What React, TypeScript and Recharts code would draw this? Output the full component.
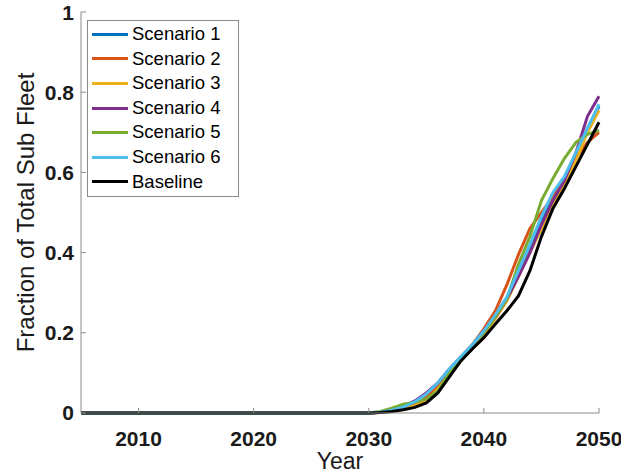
import { LineChart, Line, XAxis, YAxis, Legend } from "recharts";

// years with data; 2005 is the start of the flat zero run
const years = [2005, 2030, 2031, 2032, 2033, 2034, 2035, 2036, 2037, 2038, 2039, 2040, 2041, 2042, 2043, 2044, 2045, 2046, 2047, 2048, 2049, 2050];

const scenario1 = [0, 0, 0.002, 0.006, 0.014, 0.026, 0.044, 0.07, 0.105, 0.138, 0.168, 0.2, 0.24, 0.285, 0.35, 0.41, 0.48, 0.54, 0.585, 0.645, 0.71, 0.765];
const scenario2 = [0, 0, 0.002, 0.006, 0.013, 0.024, 0.04, 0.065, 0.1, 0.135, 0.17, 0.21, 0.255, 0.32, 0.395, 0.46, 0.5, 0.54, 0.585, 0.635, 0.675, 0.7];
const scenario3 = [0, 0, 0.001, 0.004, 0.01, 0.018, 0.03, 0.06, 0.095, 0.13, 0.165, 0.195, 0.235, 0.28, 0.34, 0.4, 0.46, 0.52, 0.57, 0.63, 0.7, 0.755];
const scenario4 = [0, 0, 0.002, 0.007, 0.016, 0.03, 0.05, 0.075, 0.11, 0.14, 0.17, 0.205, 0.24, 0.285, 0.34, 0.4, 0.47, 0.53, 0.58, 0.65, 0.74, 0.79];
const scenario5 = [0, 0, 0.004, 0.012, 0.022, 0.027, 0.035, 0.055, 0.1, 0.14, 0.17, 0.2, 0.24, 0.285, 0.37, 0.44, 0.53, 0.585, 0.635, 0.675, 0.695, 0.705];
const scenario6 = [0, 0, 0.002, 0.007, 0.015, 0.028, 0.047, 0.075, 0.11, 0.14, 0.17, 0.205, 0.245, 0.29, 0.355, 0.42, 0.49, 0.55, 0.59, 0.65, 0.71, 0.77];
const baseline = [0, 0, 0.001, 0.004, 0.008, 0.014, 0.025, 0.05, 0.09, 0.13, 0.16, 0.188, 0.222, 0.255, 0.292, 0.355, 0.44, 0.51, 0.56, 0.615, 0.67, 0.725];

const xTicks = [2010, 2020, 2030, 2040, 2050];
const yTicks = [0, 0.2, 0.4, 0.6, 0.8, 1];

const series = [
  { key: "s1", name: "Scenario 1", color: "#0072BD", values: scenario1 },
  { key: "s2", name: "Scenario 2", color: "#D95319", values: scenario2 },
  { key: "s3", name: "Scenario 3", color: "#EDB120", values: scenario3 },
  { key: "s4", name: "Scenario 4", color: "#7E2F8E", values: scenario4 },
  { key: "s5", name: "Scenario 5", color: "#77AC30", values: scenario5 },
  { key: "s6", name: "Scenario 6", color: "#4DBEEE", values: scenario6 },
  { key: "base", name: "Baseline", color: "#000000", values: baseline },
];

const data = years.map((year, i) => {
  const row: Record<string, number> = { year };
  series.forEach((s) => {
    row[s.key] = s.values[i];
  });
  return row;
});

const font = "'Liberation Sans', Arial, sans-serif";
const axisColor = "#8a8a8a";
const tickStyle = { fontFamily: font, fontSize: 21, fontWeight: "bold" as const, fill: "#1a1a1a" };

const LegendBox = () => (
  <div
    style={{
      boxSizing: "border-box",
      width: 152,
      height: 177,
      border: `1px solid ${axisColor}`,
      background: "#fff",
      paddingTop: 1,
      fontFamily: font,
      fontSize: 18.5,
      color: "#000",
    }}
  >
    {series.map((s) => (
      <div key={s.key} style={{ display: "flex", alignItems: "center", height: 24.6 }}>
        <span style={{ display: "inline-block", width: 36, height: 3, background: s.color, marginLeft: 4, marginRight: 4 }} />
        <span style={{ lineHeight: 1 }}>{s.name}</span>
      </div>
    ))}
  </div>
);

const App = () => {
  return (
    <div style={{ position: "absolute", left: 0, top: 0, background: "#fff" }}>
      <LineChart width={621} height={474} data={data} margin={{ top: 12, right: 22, bottom: 21, left: 21 }}>
        <XAxis
          dataKey="year"
          type="number"
          domain={[2005, 2050]}
          ticks={xTicks}
          height={40}
          tickSize={-5}
          tickMargin={23}
          stroke={axisColor}
          tick={tickStyle}
          label={{ value: "Year", position: "center", dy: 28, style: { fontFamily: font, fontSize: 23, fill: "#1a1a1a" } }}
        />
        <XAxis
          xAxisId="top"
          dataKey="year"
          type="number"
          orientation="top"
          domain={[2005, 2050]}
          ticks={xTicks}
          height={0}
          tickSize={-5}
          stroke={axisColor}
          tickFormatter={() => ""}
        />
        <YAxis
          type="number"
          domain={[0, 1]}
          ticks={yTicks}
          width={60}
          tickSize={-5}
          tickMargin={12}
          stroke={axisColor}
          tick={tickStyle}
          tickFormatter={(v: number) => String(v)}
          label={{
            value: "Fraction of Total Sub Fleet",
            angle: -90,
            position: "center",
            dx: -26,
            style: { fontFamily: font, fontSize: 24, fill: "#1a1a1a", textAnchor: "middle" },
          }}
        />
        <YAxis
          yAxisId="right"
          type="number"
          orientation="right"
          domain={[0, 1]}
          ticks={yTicks}
          width={0}
          tickSize={-5}
          stroke={axisColor}
          tickFormatter={() => ""}
        />
        <Legend
          layout="vertical"
          align="center"
          verticalAlign="middle"
          wrapperStyle={{ left: 87, top: 20, width: 152 }}
          content={() => <LegendBox />}
        />
        {series.map((s) => (
          <Line
            key={s.key}
            type="linear"
            dataKey={s.key}
            name={s.name}
            stroke={s.color}
            strokeWidth={3}
            dot={false}
            isAnimationActive={false}
          />
        ))}
      </LineChart>
    </div>
  );
};

export default App;
